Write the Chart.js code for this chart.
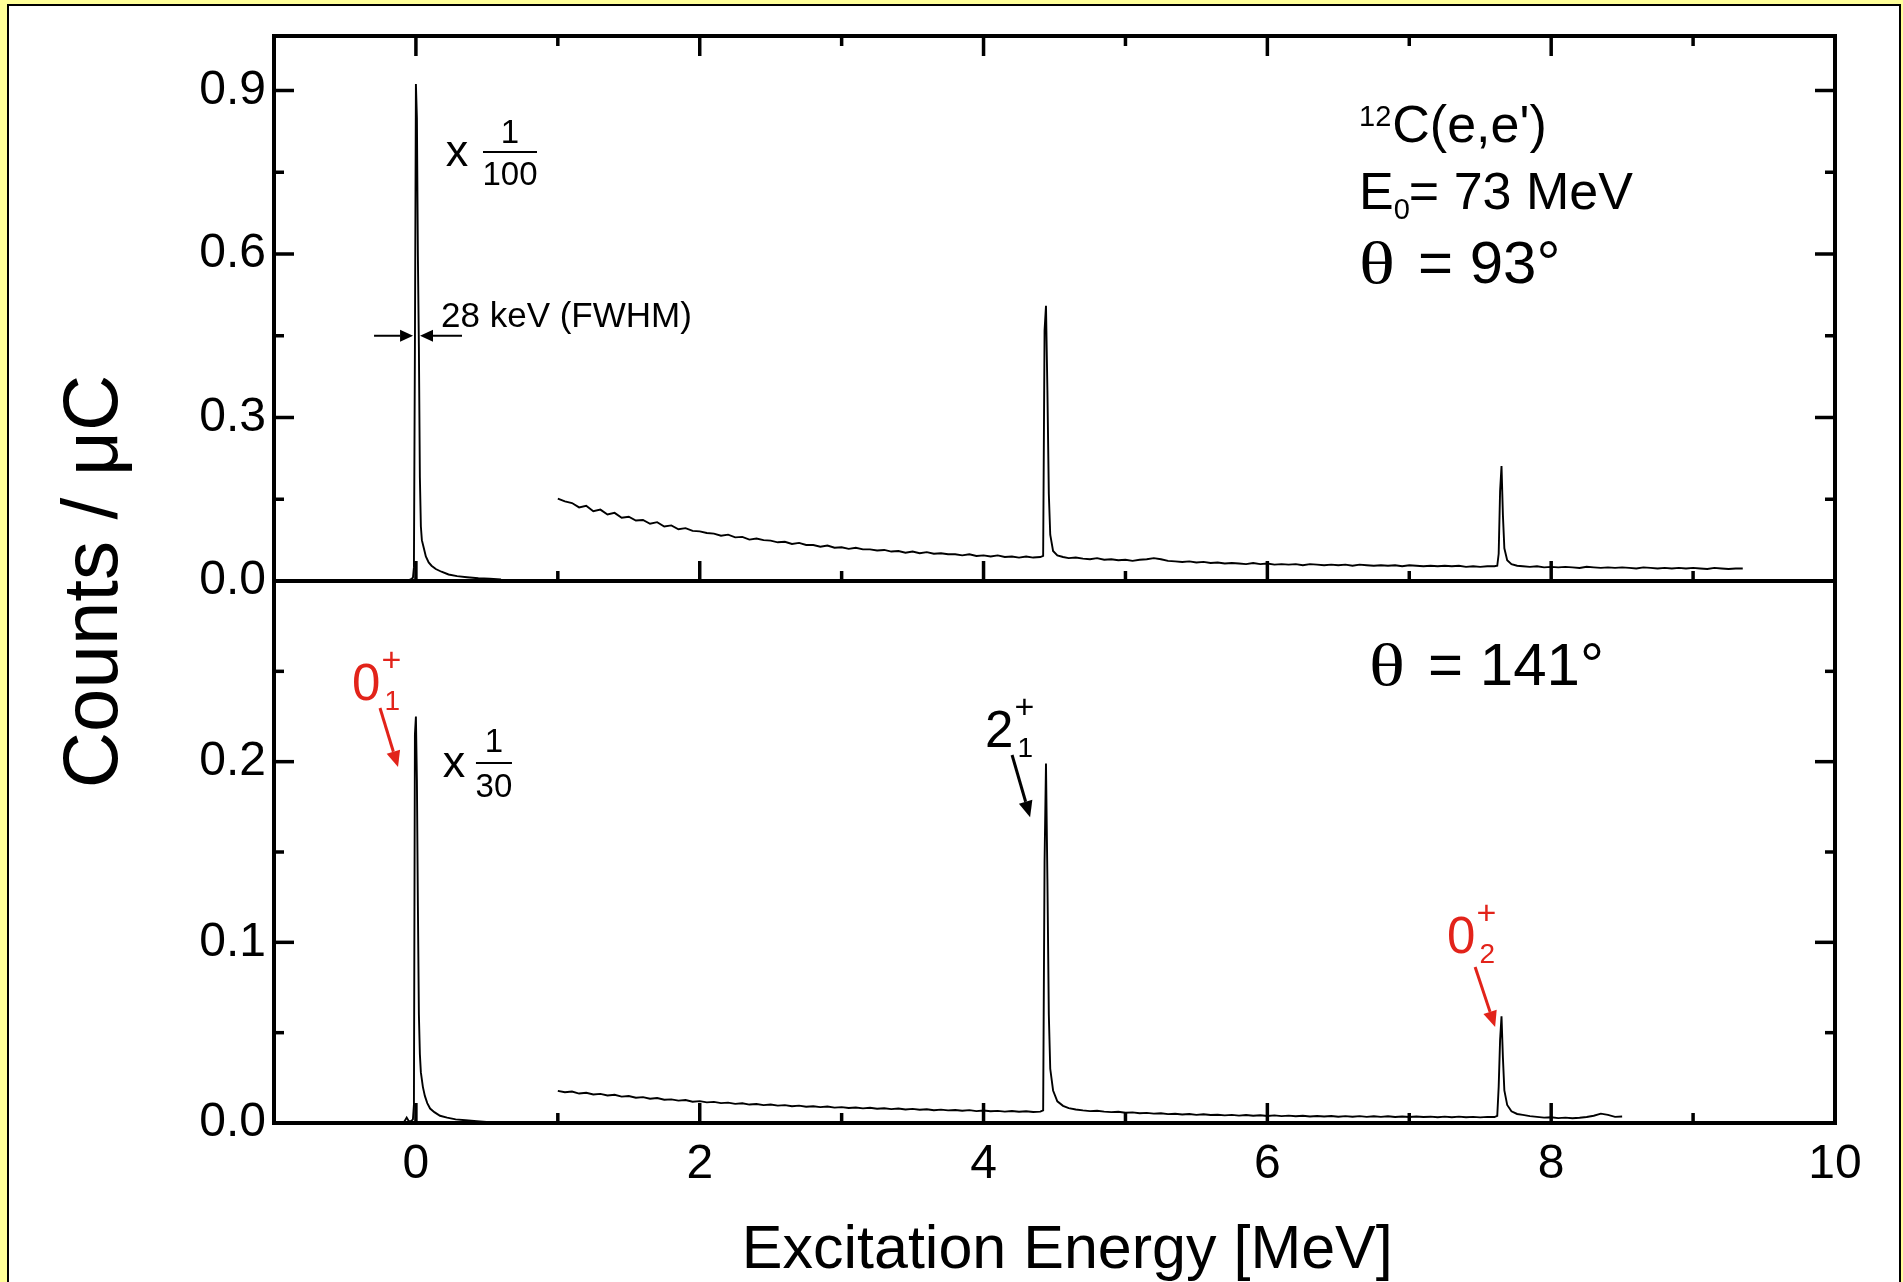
<!DOCTYPE html>
<html>
<head>
<meta charset="utf-8">
<script src="https://cdn.jsdelivr.net/npm/chart.js@4.4.1/dist/chart.umd.min.js"></script>
<style>
  html, body { margin: 0; padding: 0; background: #FFFF99; }
  body { width: 1903px; height: 1282px; position: relative; overflow: hidden; }
  #frame { position: absolute; left: 7px; top: 4px; width: 1890px; height: 1290px;
           border: 2px solid #000; background: #fff; box-sizing: content-box; }
  #c { position: absolute; left: 0; top: 0; }
</style>
</head>
<body>
<div id="frame"></div>
<canvas id="c" width="1903" height="1282"></canvas>
<script>
// ---------------- data ----------------
// theta = 93 deg panel, elastic peak (shown x 1/100)
const topElasticE = [-0.060, -0.045, -0.030, -0.021, -0.014, -0.007, 0.000, 0.007, 0.014, 0.021, 0.028, 0.035, 0.042, 0.056, 0.070, 0.090, 0.110, 0.140, 0.180, 0.230, 0.290, 0.360, 0.440, 0.520, 0.600];
const topElasticC = [0.000, 0.002, 0.004, 0.006, 0.025, 0.430, 0.912, 0.850, 0.595, 0.430, 0.190, 0.100, 0.075, 0.060, 0.045, 0.034, 0.028, 0.022, 0.017, 0.012, 0.009, 0.007, 0.005, 0.004, 0.003];

// theta = 93 deg panel, inelastic spectrum
const topContE = [1.00,1.05,1.10,1.15,1.20,1.25,1.30,1.35,1.40,1.45,1.50,1.55,1.60,1.65,1.70,1.75,1.80,1.85,1.90,1.95,2.00,2.05,2.10,2.15,2.20,2.25,2.30,2.35,2.40,2.45,2.50,2.55,2.60,2.65,2.70,2.75,2.80,2.85,2.90,2.95,3.00,3.05,3.10,3.15,3.20,3.25,3.30,3.35,3.40,3.45,3.50,3.55,3.60,3.65,3.70,3.75,3.80,3.85,3.90,3.95,4.00,4.05,4.10,4.15,4.20,4.25,4.30,4.35,4.40,
  4.42,4.43,4.44,4.45,4.46,4.47,4.49,4.52,4.56,4.60,4.65,
  4.70,4.75,4.80,4.85,4.90,4.95,5.00,5.05,5.10,5.15,5.20,5.25,5.30,5.35,5.40,5.45,5.50,5.55,5.60,5.65,5.70,5.75,5.80,5.85,5.90,5.95,6.00,6.05,6.10,6.15,6.20,6.25,6.30,6.35,6.40,6.45,6.50,6.55,6.60,6.65,6.70,6.75,6.80,6.85,6.90,6.95,7.00,7.05,7.10,7.15,7.20,7.25,7.30,7.35,7.40,7.45,7.50,7.55,7.60,
  7.62,7.63,7.64,7.65,7.66,7.67,7.69,7.72,7.76,
  7.80,7.85,7.90,7.95,8.00,8.05,8.10,8.15,8.20,8.25,8.30,8.35,8.40,8.45,8.50,8.55,8.60,8.65,8.70,8.75,8.80,8.85,8.90,8.95,9.00,9.05,9.10,9.15,9.20,9.25,9.30,9.35];
const topContC = [0.151,0.146,0.143,0.135,0.138,0.128,0.131,0.122,0.125,0.116,0.118,0.111,0.112,0.105,0.108,0.100,0.102,0.095,0.097,0.092,0.091,0.088,0.087,0.083,0.085,0.080,0.081,0.076,0.078,0.075,0.074,0.071,0.072,0.068,0.070,0.066,0.066,0.063,0.065,0.061,0.062,0.059,0.061,0.058,0.058,0.056,0.057,0.054,0.055,0.052,0.054,0.051,0.053,0.050,0.051,0.049,0.049,0.047,0.049,0.046,0.047,0.045,0.047,0.044,0.045,0.043,0.045,0.043,0.044,
  0.046,0.460,0.505,0.350,0.160,0.085,0.055,0.047,0.044,0.042,0.043,
  0.041,0.040,0.042,0.039,0.040,0.038,0.039,0.037,0.039,0.040,0.042,0.040,0.037,0.036,0.035,0.036,0.034,0.035,0.033,0.034,0.032,0.033,0.032,0.031,0.033,0.031,0.032,0.030,0.031,0.030,0.031,0.029,0.031,0.030,0.029,0.030,0.029,0.030,0.028,0.030,0.029,0.028,0.029,0.028,0.029,0.027,0.029,0.028,0.027,0.028,0.027,0.028,0.027,0.028,0.026,0.027,0.026,0.027,0.027,
  0.028,0.050,0.165,0.211,0.120,0.060,0.038,0.031,0.028,
  0.027,0.026,0.027,0.025,0.026,0.025,0.026,0.025,0.024,0.026,0.025,0.024,0.025,0.024,0.025,0.024,0.023,0.025,0.024,0.023,0.024,0.023,0.024,0.023,0.024,0.023,0.022,0.024,0.023,0.022,0.023,0.023];

// theta = 141 deg panel, elastic peak (shown x 1/30)
const botElasticE = [-0.100, -0.080, -0.065, -0.050, -0.035, -0.021, -0.014, -0.007, 0.000, 0.007, 0.014, 0.021, 0.028, 0.035, 0.049, 0.063, 0.080, 0.100, 0.130, 0.170, 0.220, 0.280, 0.350, 0.430, 0.520];
const botElasticC = [0.000, 0.001, 0.003, 0.001, 0.001, 0.002, 0.010, 0.215, 0.225, 0.190, 0.120, 0.060, 0.038, 0.028, 0.020, 0.015, 0.011, 0.008, 0.006, 0.004, 0.003, 0.002, 0.0015, 0.001, 0.0005];

// theta = 141 deg panel, inelastic spectrum
const botContE = [1.00,1.05,1.10,1.15,1.20,1.25,1.30,1.35,1.40,1.45,1.50,1.55,1.60,1.65,1.70,1.75,1.80,1.85,1.90,1.95,2.00,2.05,2.10,2.15,2.20,2.25,2.30,2.35,2.40,2.45,2.50,2.55,2.60,2.65,2.70,2.75,2.80,2.85,2.90,2.95,3.00,3.05,3.10,3.15,3.20,3.25,3.30,3.35,3.40,3.45,3.50,3.55,3.60,3.65,3.70,3.75,3.80,3.85,3.90,3.95,4.00,4.05,4.10,4.15,4.20,4.25,4.30,4.35,4.40,
  4.42,4.43,4.44,4.45,4.46,4.47,4.49,4.52,4.56,4.60,4.65,
  4.70,4.75,4.80,4.85,4.90,4.95,5.00,5.05,5.10,5.15,5.20,5.25,5.30,5.35,5.40,5.45,5.50,5.55,5.60,5.65,5.70,5.75,5.80,5.85,5.90,5.95,6.00,6.05,6.10,6.15,6.20,6.25,6.30,6.35,6.40,6.45,6.50,6.55,6.60,6.65,6.70,6.75,6.80,6.85,6.90,6.95,7.00,7.05,7.10,7.15,7.20,7.25,7.30,7.35,7.40,7.45,7.50,7.55,7.60,
  7.62,7.63,7.64,7.65,7.66,7.67,7.69,7.72,7.76,
  7.80,7.85,7.90,7.95,8.00,8.05,8.10,8.15,8.20,8.25,8.30,8.35,8.40,8.45,8.50];
const botContC = [0.0178,0.0170,0.0174,0.0163,0.0167,0.0158,0.0161,0.0152,0.0156,0.0146,0.0149,0.0140,0.0143,0.0134,0.0138,0.0129,0.0131,0.0124,0.0127,0.0118,0.0121,0.0114,0.0117,0.0110,0.0113,0.0106,0.0109,0.0102,0.0105,0.0099,0.0102,0.0096,0.0099,0.0093,0.0096,0.0090,0.0093,0.0088,0.0091,0.0085,0.0088,0.0083,0.0086,0.0081,0.0084,0.0079,0.0082,0.0077,0.0080,0.0075,0.0078,0.0073,0.0076,0.0071,0.0074,0.0070,0.0072,0.0068,0.0071,0.0066,0.0069,0.0065,0.0067,0.0063,0.0066,0.0062,0.0065,0.0061,0.0063,
  0.0070,0.1450,0.1990,0.1350,0.0600,0.0300,0.0180,0.0120,0.0095,0.0082,0.0075,
  0.0070,0.0066,0.0068,0.0063,0.0060,0.0062,0.0057,0.0059,0.0054,0.0056,0.0052,0.0054,0.0049,0.0051,0.0047,0.0050,0.0045,0.0048,0.0044,0.0046,0.0042,0.0045,0.0041,0.0044,0.0040,0.0043,0.0039,0.0042,0.0038,0.0041,0.0037,0.0040,0.0036,0.0039,0.0036,0.0039,0.0035,0.0038,0.0035,0.0038,0.0034,0.0037,0.0034,0.0037,0.0033,0.0036,0.0033,0.0036,0.0033,0.0035,0.0032,0.0035,0.0032,0.0035,0.0032,0.0034,0.0031,0.0034,0.0033,
  0.0040,0.0200,0.0460,0.0590,0.0360,0.0180,0.0100,0.0065,0.0050,
  0.0045,0.0038,0.0034,0.0030,0.0032,0.0027,0.0030,0.0026,0.0029,0.0033,0.0040,0.0052,0.0045,0.0034,0.0036];

// axis ticks
const xTickValues   = [0, 2, 4, 6, 8, 10];
const xMinorValues  = [1, 3, 5, 7, 9];
const yTopTicks     = [0.0, 0.3, 0.6, 0.9];
const yTopMinor     = [0.15, 0.45, 0.75];
const yBotTicks     = [0.0, 0.1, 0.2];
const yBotMinor     = [0.05, 0.15, 0.25];

// ---------------- styling ----------------
const SANS = "'Liberation Sans', Arial, Helvetica, sans-serif";
const SERIF = "'Liberation Serif', 'Times New Roman', serif";
const RED = '#e2231a';

function pairs(xs, ys) { return xs.map((x, i) => ({ x: x, y: ys[i] })); }

function arrow(ctx, x1, y1, x2, y2, color, lw, hl, hw) {
  const a = Math.atan2(y2 - y1, x2 - x1);
  const bx = x2 - hl * Math.cos(a), by = y2 - hl * Math.sin(a);
  ctx.strokeStyle = color; ctx.fillStyle = color; ctx.lineWidth = lw;
  ctx.beginPath(); ctx.moveTo(x1, y1); ctx.lineTo(bx, by); ctx.stroke();
  ctx.beginPath();
  ctx.moveTo(x2, y2);
  ctx.lineTo(bx + hw * Math.sin(a), by - hw * Math.cos(a));
  ctx.lineTo(bx - hw * Math.sin(a), by + hw * Math.cos(a));
  ctx.closePath(); ctx.fill();
}

const deco = {
  id: 'deco',
  afterDraw(chart) {
    const ctx = chart.ctx;
    const xs = chart.scales.x, yt = chart.scales.yTop, yb = chart.scales.yBot;
    const L = chart.chartArea.left, R = chart.chartArea.right;
    const X = v => xs.getPixelForValue(v);
    const T = v => yt.getPixelForValue(v);
    const B = v => yb.getPixelForValue(v);
    ctx.save();
    ctx.strokeStyle = '#000';
    ctx.lineCap = 'butt';
    // frames
    ctx.lineWidth = 4;
    ctx.strokeRect(L, T(1.0), R - L, T(0) - T(1.0));
    ctx.strokeRect(L, B(0.3), R - L, B(0) - B(0.3));
    // ticks (inward)
    ctx.lineWidth = 3.5;
    const seg = (x1, y1, x2, y2) => { ctx.beginPath(); ctx.moveTo(x1, y1); ctx.lineTo(x2, y2); ctx.stroke(); };
    const MAJ = 20, MIN = 10;
    xTickValues.forEach(v => { if (v <= -1 || v >= 10) return; const p = X(v);
      seg(p, T(1.0), p, T(1.0) + MAJ); seg(p, T(0), p, T(0) - MAJ); seg(p, B(0), p, B(0) - MAJ); });
    xMinorValues.forEach(v => { const p = X(v);
      seg(p, T(1.0), p, T(1.0) + MIN); seg(p, T(0), p, T(0) - MIN); seg(p, B(0), p, B(0) - MIN); });
    yTopTicks.forEach(v => { if (v <= 0) return; const p = T(v); seg(L, p, L + MAJ, p); seg(R, p, R - MAJ, p); });
    yTopMinor.forEach(v => { const p = T(v); seg(L, p, L + MIN, p); seg(R, p, R - MIN, p); });
    yBotTicks.forEach(v => { if (v <= 0) return; const p = B(v); seg(L, p, L + MAJ, p); seg(R, p, R - MAJ, p); });
    yBotMinor.forEach(v => { const p = B(v); seg(L, p, L + MIN, p); seg(R, p, R - MIN, p); });

    // y axis title
    ctx.save();
    ctx.translate(L - 179, (T(1.0) + B(0)) / 2 + 2);
    ctx.rotate(-Math.PI / 2);
    ctx.fillStyle = '#000'; ctx.font = '78px ' + SANS;
    ctx.textAlign = 'center'; ctx.textBaseline = 'middle';
    ctx.fillText('Counts / \u03BCC', 0, 0);
    ctx.restore();

    ctx.textBaseline = 'alphabetic';
    const text = (s, x, y, size, color, align, fam) => {
      ctx.font = size + 'px ' + (fam || SANS); ctx.fillStyle = color || '#000';
      ctx.textAlign = align || 'left'; ctx.fillText(s, x, y);
      return ctx.measureText(s).width;
    };
    const theta = (x, y) => {
      ctx.save();
      ctx.translate(x, y); ctx.scale(1.25, 1);
      ctx.font = '60px ' + SERIF; ctx.fillStyle = '#000'; ctx.textAlign = 'left';
      ctx.fillText('\u03B8', 0, 0);
      ctx.restore();
    };
    // x axis title
    text('Excitation Energy [MeV]', X(4.59), xs.bottom - 14, 61, '#000', 'center');

    const frac = (num, den, cx, yNum, yLine, yDen, half) => {
      text(num, cx, yNum, 33, '#000', 'center');
      text(den, cx, yDen, 33, '#000', 'center');
      ctx.lineWidth = 2; ctx.strokeStyle = '#000';
      seg(cx - half, yLine, cx + half, yLine);
    };

    // top panel: x 1/100
    text('x', X(0.290), T(0.762), 45, '#000', 'center');
    frac('1', '100', X(0.663), T(0.804), T(0.787), T(0.726), 27);
    // FWHM
    text('28 keV (FWHM)', X(0.177), T(0.466), 35, '#000', 'left');
    arrow(ctx, X(-0.295), T(0.450), X(-0.020), T(0.450), '#000', 2, 13, 6);
    arrow(ctx, X(0.325), T(0.450), X(0.029), T(0.450), '#000', 2, 13, 6);

    // reaction info
    let x0 = X(6.646);
    let w = text('12', x0, T(0.835), 29, '#000');
    text('C(e,e\')', x0 + w + 1, T(0.8055), 52, '#000');
    w = text('E', x0, T(0.682), 52, '#000');
    const w2 = text('0', x0 + w, T(0.682) + 10, 29, '#000');
    text('= 73 MeV', x0 + w + w2 - 1, T(0.682), 52, '#000');
    theta(x0, T(0.547));
    text('= 93\u00B0', x0 + 59, T(0.547), 60, '#000');
    const x1 = X(6.717);
    theta(x1, B(0.2425));
    text('= 141\u00B0', x1 + 59, B(0.2425), 60, '#000');

    // state labels
    const state = (main, sub, x, y, color) => {
      const wm = text(main, x, y, 51, color);
      text('+', x + wm + 1, y - 29, 34, color);
      text(sub, x + wm + 4, y + 10, 28, color);
    };
    state('0', '1', X(-0.450), B(0.2341), RED);
    arrow(ctx, X(-0.253), B(0.2297), X(-0.126), B(0.197), RED, 3, 16, 7);
    state('2', '1', X(4.011), B(0.2081), '#000');
    arrow(ctx, X(4.201), B(0.2037), X(4.328), B(0.1693), '#000', 3, 16, 7);
    state('0', '2', X(7.266), B(0.0941), RED);
    arrow(ctx, X(7.464), B(0.0863), X(7.605), B(0.0531), RED, 3, 16, 7);

    // bottom panel: x 1/30
    text('x', X(0.268), B(0.1915), 45, '#000', 'center');
    frac('1', '30', X(0.550), B(0.2053), B(0.1992), B(0.1804), 18);
    ctx.restore();
  }
};

const lineStyle = { borderColor: '#000', borderWidth: 1.9, pointRadius: 0, tension: 0, fill: false };

new Chart(document.getElementById('c').getContext('2d'), {
  type: 'line',
  data: {
    datasets: [
      Object.assign({ data: pairs(topElasticE, topElasticC), yAxisID: 'yTop' }, lineStyle),
      Object.assign({ data: pairs(topContE, topContC), yAxisID: 'yTop' }, lineStyle),
      Object.assign({ data: pairs(botElasticE, botElasticC), yAxisID: 'yBot' }, lineStyle),
      Object.assign({ data: pairs(botContE, botContC), yAxisID: 'yBot' }, lineStyle)
    ]
  },
  options: {
    responsive: false,
    animation: false,
    devicePixelRatio: 1,
    events: [],
    layout: { padding: { left: 0, top: 36, right: 68, bottom: 0 } },
    plugins: { legend: { display: false }, tooltip: { enabled: false } },
    scales: {
      x: {
        type: 'linear', position: 'bottom', min: -1, max: 10,
        grid: { display: false, drawTicks: false }, border: { display: false },
        afterBuildTicks: s => { s.ticks = xTickValues.map(v => ({ value: v })); },
        afterFit: s => { s.height = 159; },
        ticks: { color: '#000', font: { family: SANS, size: 48 }, padding: 13, maxRotation: 0, autoSkip: false,
                 callback: v => String(v) },
        title: { display: false }
      },
      yBot: {
        type: 'linear', position: 'left', min: 0, max: 0.3, stack: 'panels', stackWeight: 542, weight: 1,
        grid: { display: false, drawTicks: false }, border: { display: false },
        afterBuildTicks: s => { s.ticks = yBotTicks.map(v => ({ value: v })); },
        afterFit: s => { s.width = 274; },
        ticks: { color: '#000', font: { family: SANS, size: 48, lineHeight: 0.8 }, padding: 8, callback: v => Number(v).toFixed(1) }
      },
      yTop: {
        type: 'linear', position: 'left', min: 0, max: 1.0, stack: 'panels', stackWeight: 545, weight: 2,
        grid: { display: false, drawTicks: false }, border: { display: false },
        afterBuildTicks: s => { s.ticks = yTopTicks.map(v => ({ value: v })); },
        afterFit: s => { s.width = 274; },
        ticks: { color: '#000', font: { family: SANS, size: 48, lineHeight: 0.8 }, padding: 8, callback: v => Number(v).toFixed(1) }
      }
    }
  },
  plugins: [deco]
});
</script>
</body>
</html>
